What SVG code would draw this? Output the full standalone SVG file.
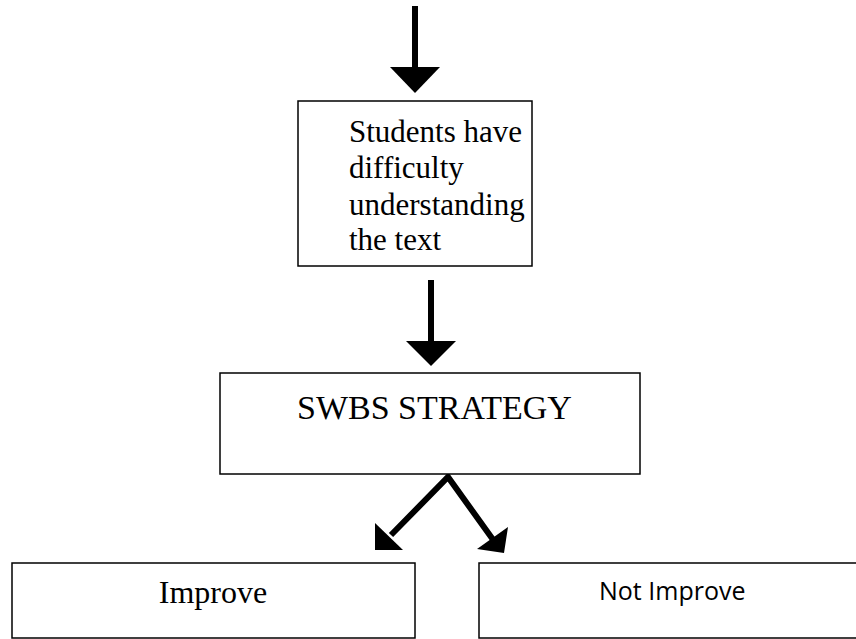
<svg xmlns="http://www.w3.org/2000/svg" width="856" height="639" viewBox="0 0 856 639">
  <style>
    .box { fill: #ffffff; stroke: #000000; stroke-width: 1.5; }
    .serif { font-family: "Liberation Serif", "Times New Roman", serif; fill: #000000; }
    .sans { font-family: "Open Sans", "Liberation Sans", sans-serif; fill: #000000; }
    .shaft { stroke: #000000; stroke-width: 6; fill: none; }
    .head { fill: #000000; stroke: none; }
  </style>
  <rect width="856" height="639" fill="#ffffff"/>

  <g id="connectors">
    <!-- entry arrow into the first box -->
    <line class="shaft" x1="415" y1="6" x2="415" y2="70"/>
    <polygon class="head" points="390,67 440,67 415,93"/>
    <!-- first box to strategy box -->
    <line class="shaft" x1="431" y1="280" x2="431" y2="343"/>
    <polygon class="head" points="406,341 456,341 431,366"/>
    <!-- strategy box to the two outcomes -->
    <polyline class="shaft" points="391,535 448,477 494,541" stroke-linejoin="miter"/>
    <polygon class="head" points="375,523 403,550 375,550"/>
    <polygon class="head" points="508,527 477,549 504,553"/>
  </g>

  <g id="node-difficulty">
    <rect class="box" x="298" y="101" width="234" height="165"/>
    <text class="serif" font-size="31">
      <tspan x="349" y="142">Students have</tspan>
      <tspan x="349" y="178">difficulty</tspan>
      <tspan x="349" y="215">understanding</tspan>
      <tspan x="349" y="250">the text</tspan>
    </text>
  </g>

  <g id="node-strategy">
    <rect class="box" x="220" y="373" width="420" height="101"/>
    <text class="serif" font-size="34" x="297" y="419">SWBS STRATEGY</text>
  </g>

  <g id="node-improve">
    <rect class="box" x="12" y="563" width="403" height="75"/>
    <text class="serif" font-size="32" x="213" y="603" text-anchor="middle">Improve</text>
  </g>

  <g id="node-not-improve">
    <rect class="box" x="479" y="563" width="390" height="75"/>
    <text class="sans" font-size="25" x="599" y="600">Not Improve</text>
  </g>
</svg>
